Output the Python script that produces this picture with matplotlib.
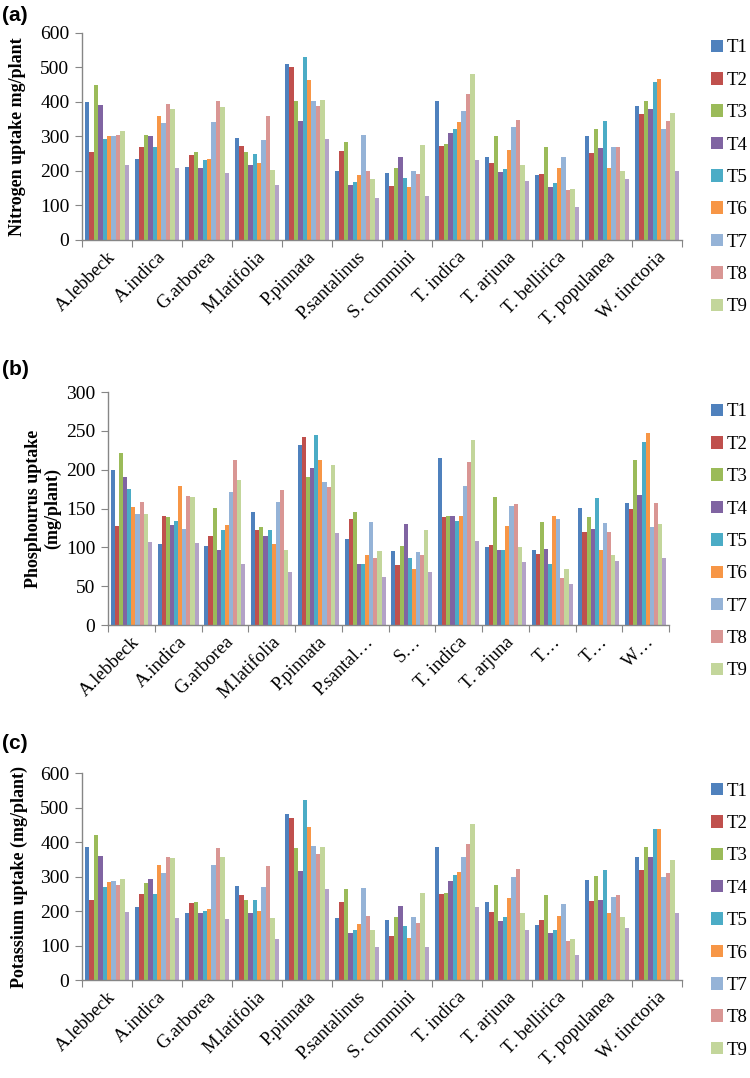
import matplotlib.pyplot as plt
import numpy as np
from matplotlib.patches import Patch

species = ["A.lebbeck", "A.indica", "G.arborea", "M.latifolia", "P.pinnata",
           "P.santalinus", "S. cummini", "T. indica", "T. arjuna", "T. bellirica",
           "T. populanea", "W. tinctoria"]
species_b = ["A.lebbeck", "A.indica", "G.arborea", "M.latifolia", "P.pinnata",
             "P.santal\u2026", "S\u2026", "T. indica", "T. arjuna", "T\u2026",
             "T\u2026", "W\u2026"]
treatments = ["T1", "T2", "T3", "T4", "T5", "T6", "T7", "T8", "T9", "T10"]

# rows = species, columns = T1..T10
nitrogen = [
    [400, 255, 450, 390, 292, 302, 300, 305, 317, 218],
    [235, 270, 303, 300, 270, 360, 340, 393, 380, 210],
    [212, 245, 255, 210, 232, 235, 342, 402, 385, 193],
    [295, 272, 255, 218, 248, 223, 290, 358, 203, 158],
    [510, 500, 402, 345, 530, 465, 402, 388, 405, 292],
    [200, 257, 285, 158, 168, 188, 303, 200, 178, 122],
    [193, 157, 208, 240, 181, 153, 200, 190, 276, 127],
    [403, 273, 279, 311, 322, 342, 375, 424, 482, 231],
    [240, 223, 302, 196, 205, 261, 328, 348, 218, 171],
    [187, 191, 270, 154, 166, 209, 240, 146, 148, 97],
    [300, 253, 322, 267, 344, 209, 270, 270, 200, 176],
    [388, 366, 402, 379, 457, 468, 322, 344, 368, 200],
]
phosphorus = [
    [200, 127, 221, 190, 175, 152, 143, 158, 143, 107],
    [104, 141, 139, 129, 134, 179, 124, 166, 165, 106],
    [102, 115, 151, 97, 122, 129, 171, 213, 187, 78],
    [146, 123, 126, 115, 123, 104, 159, 174, 97, 68],
    [232, 242, 191, 202, 245, 212, 184, 178, 206, 119],
    [111, 136, 145, 78, 78, 90, 133, 86, 95, 62],
    [95, 77, 102, 130, 86, 72, 94, 90, 123, 68],
    [215, 139, 141, 141, 134, 141, 179, 210, 238, 108],
    [101, 103, 165, 96, 97, 128, 153, 156, 101, 81],
    [96, 92, 133, 98, 78, 141, 137, 61, 72, 53],
    [151, 120, 139, 124, 163, 97, 131, 120, 90, 83],
    [157, 149, 212, 168, 236, 247, 126, 157, 130, 86],
]
potassium = [
    [385, 233, 419, 360, 269, 284, 286, 274, 294, 196],
    [212, 250, 280, 294, 250, 333, 311, 357, 354, 181],
    [193, 222, 225, 193, 201, 206, 332, 382, 357, 176],
    [272, 247, 231, 193, 231, 201, 269, 330, 181, 119],
    [480, 470, 382, 315, 521, 445, 388, 366, 385, 263],
    [181, 225, 263, 135, 146, 162, 266, 185, 146, 97],
    [174, 129, 184, 214, 156, 121, 182, 165, 253, 97],
    [385, 250, 252, 288, 305, 312, 357, 395, 452, 213],
    [226, 196, 275, 171, 184, 237, 299, 321, 193, 146],
    [159, 174, 245, 135, 146, 185, 220, 113, 118, 72],
    [291, 230, 302, 233, 318, 193, 240, 245, 182, 152],
    [357, 318, 385, 357, 437, 437, 299, 310, 349, 193],
]

colors = ["#4F81BD", "#C0504D", "#9BBB59", "#8064A2", "#4BACC6", "#F79646",
          "#95B3D7", "#D99694", "#C3D69B", "#B3A2C7"]

serif = "Liberation Serif"
axis_grey = "#868686"

fig = plt.figure(figsize=(7.5, 10.78), dpi=100)

panels = [
    # rect, data, ylim, step, labels, ylabel, ylabel x, tag, tag y, legend top
    ([0.1093, 0.7774, 0.8, 0.192], nitrogen, 600, 100, species,
     "Nitrogen uptake mg/plant", -0.093, "(a)", 0.986, 0.9634),
    ([0.144, 0.4202, 0.748, 0.2161], phosphorus, 300, 50, species_b,
     "Phosphourus uptake\n(mg/plant)", -0.083, "(b)", 0.657, 0.6257),
    ([0.1093, 0.0909, 0.8, 0.192], potassium, 600, 100, species,
     "Potassium uptake (mg/plant)", -0.09, "(c)", 0.31, 0.274),
]

x = np.arange(len(species))
n = len(treatments)
bw = 0.088

for rect, data, ymax, step, labels, ylabel, ylx, tag, tag_y, leg_top in panels:
    ax = fig.add_axes(rect)
    vals = np.array(data)
    for j in range(n):
        ax.bar(x - bw * (n - 1) / 2 + j * bw, vals[:, j], width=bw,
               color=colors[j], linewidth=0)
    ax.set_xlim(-0.5, len(species) - 0.5)
    ax.set_ylim(0, ymax)
    ax.set_yticks(np.arange(0, ymax + 1, step))
    for s in ["top", "right"]:
        ax.spines[s].set_visible(False)
    for s in ["left", "bottom"]:
        ax.spines[s].set_color(axis_grey)
        ax.spines[s].set_linewidth(1.0)
    ax.tick_params(axis="y", colors=axis_grey, labelcolor="black", length=5,
                   labelsize=14, pad=4)
    for t in ax.get_yticklabels():
        t.set_fontfamily(serif)
    # x: boundary ticks, labels at centres
    ax.set_xticks(np.arange(-0.5, len(species) + 0.5, 1))
    ax.set_xticklabels([])
    ax.tick_params(axis="x", colors=axis_grey, length=5)
    ax.set_xticks(x, minor=True)
    ax.set_xticklabels(labels, minor=True, rotation=45, ha="right",
                       rotation_mode="anchor", fontsize=13.5, fontfamily=serif)
    ax.tick_params(axis="x", which="minor", length=0, pad=6, labelcolor="black")
    ax.set_ylabel(ylabel, fontfamily=serif, fontweight="bold", fontsize=13,
                  linespacing=1.15)
    ax.yaxis.set_label_coords(ylx, 0.5)
    fig.text(0.003, tag_y, tag, fontsize=15, fontweight="bold",
             fontfamily="Liberation Sans", va="center")
    handles = [Patch(facecolor=colors[j], label=treatments[j]) for j in range(9)]
    fig.legend(handles=handles, loc="upper left", bbox_to_anchor=(0.948, leg_top),
               frameon=False, prop={"family": serif, "size": 13.5},
               handlelength=0.65, handleheight=0.65, handletextpad=0.2,
               labelspacing=0.82, borderaxespad=0, borderpad=0)

fig.savefig("out.png", dpi=100)
